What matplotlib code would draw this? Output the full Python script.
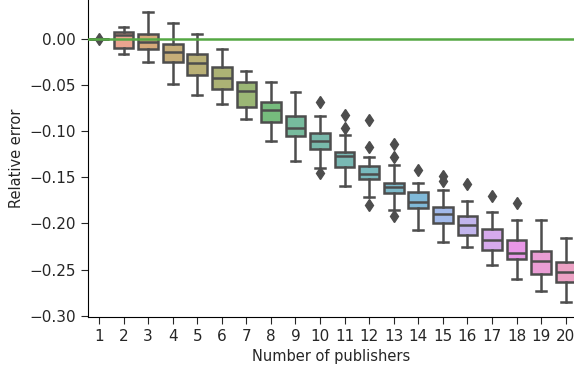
import colorsys
import matplotlib
matplotlib.use("Agg")
import matplotlib.pyplot as plt
import seaborn as sns

# box statistics (relative error per number of publishers)
publishers = list(range(1, 21))
whis_hi = [0.0, 0.0133, 0.0289, 0.0177, 0.0051, -0.0108, -0.0347, -0.0469, -0.0571, -0.0834,
           -0.1040, -0.1282, -0.1372, -0.1563, -0.1639, -0.1762, -0.1881, -0.1968, -0.1968, -0.2159]
q3 = [0.0, 0.0073, 0.0054, -0.0057, -0.0166, -0.0300, -0.0469, -0.0679, -0.0831, -0.1021,
      -0.1221, -0.1383, -0.1557, -0.1660, -0.1823, -0.1917, -0.2061, -0.2177, -0.2296, -0.2423]
median = [0.0, 0.0043, -0.0029, -0.0144, -0.0263, -0.0426, -0.0563, -0.0769, -0.0961, -0.1112,
          -0.1267, -0.1466, -0.1609, -0.1769, -0.1895, -0.2015, -0.2177, -0.2321, -0.2412, -0.2531]
q1 = [0.0, -0.0094, -0.0112, -0.0252, -0.0390, -0.0542, -0.0733, -0.0896, -0.1051, -0.1191,
      -0.1390, -0.1520, -0.1671, -0.1834, -0.1996, -0.2130, -0.2285, -0.2383, -0.2545, -0.2639]
whis_lo = [0.0, -0.0166, -0.0246, -0.0487, -0.0603, -0.0707, -0.0870, -0.1112, -0.1329, -0.1401,
           -0.1600, -0.1709, -0.1852, -0.2069, -0.2201, -0.2256, -0.2448, -0.2603, -0.2729, -0.2856]
outliers = [[0.0], [], [], [], [], [], [], [], [], [-0.0679, -0.1455],
            [-0.0823, -0.0967], [-0.0877, -0.1167, -0.1798], [-0.1143, -0.1278, -0.1921], [-0.1419],
            [-0.1484, -0.1541], [-0.1574], [-0.1700], [-0.1780], [], []]

# seaborn-style colours: husl palette, desaturated to 0.75
colors = [sns.desaturate(c, 0.75) for c in sns.color_palette("husl", len(publishers))]
lum = min(colorsys.rgb_to_hls(*c)[1] for c in colors) * 0.6
gray = (lum + 0.05, lum + 0.05, lum + 0.05)

stats = []
for i in range(len(publishers)):
    stats.append(dict(med=median[i], q1=q1[i], q3=q3[i],
                      whislo=whis_lo[i], whishi=whis_hi[i], fliers=outliers[i]))

fig = plt.figure(figsize=(5.74, 3.71), dpi=100)
ax = fig.add_axes([88 / 574, 54 / 371, 486 / 574, 317 / 371])

bp = ax.bxp(stats, positions=range(len(publishers)), widths=0.8, patch_artist=True,
            boxprops=dict(edgecolor=gray, linewidth=1.8),
            medianprops=dict(color=gray, linewidth=1.8),
            whiskerprops=dict(color=gray, linewidth=1.8),
            capprops=dict(color=gray, linewidth=1.8),
            flierprops=dict(marker="d", markerfacecolor=gray, markeredgecolor=gray, markersize=6))
for patch, c in zip(bp["boxes"], colors):
    patch.set_facecolor((*c, 0.72))

ax.axhline(0, color="#55a844", linewidth=1.8, zorder=5)

ax.set_xticks(range(len(publishers)))
ax.set_xticklabels([str(p) for p in publishers])
ax.set_xlim(-0.448, 19.34)
ax.set_ylim(-0.3015, 0.0422)
ax.set_yticks([0.0, -0.05, -0.10, -0.15, -0.20, -0.25, -0.30])
ax.set_yticklabels(["0.00", "\u22120.05", "\u22120.10", "\u22120.15", "\u22120.20", "\u22120.25", "\u22120.30"])
ax.tick_params(labelsize=11, colors="#262626", labelcolor="#262626", length=5)
ax.set_xlabel("Number of publishers", color="#262626", fontsize=10.5)
ax.set_ylabel("Relative error", color="#262626", fontsize=10.5)
ax.spines["top"].set_visible(False)
ax.spines["right"].set_visible(False)

fig.savefig("out.png", dpi=100)
